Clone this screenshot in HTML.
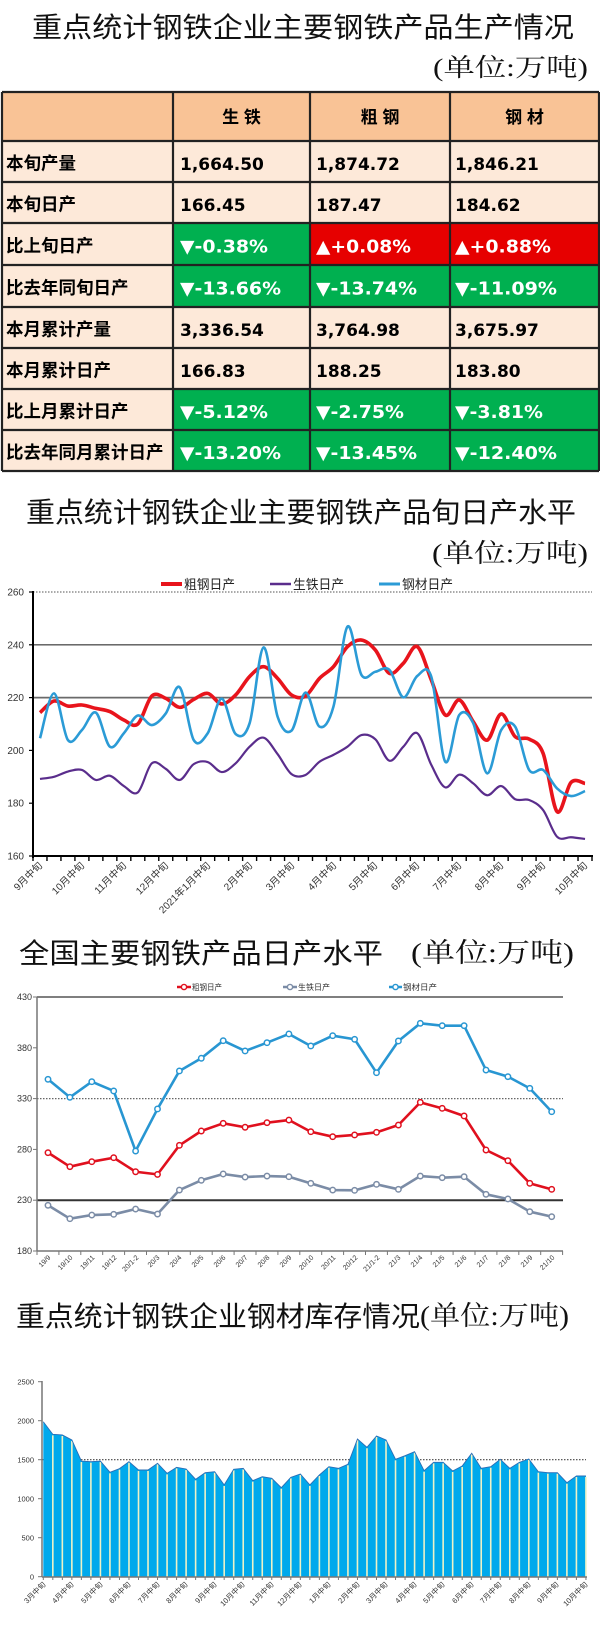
<!DOCTYPE html>
<html><head><meta charset="utf-8">
<style>
html,body{margin:0;padding:0;background:#fff;}
svg{display:block;}
text{font-family:"Liberation Sans","Noto Sans CJK SC",sans-serif;}
text.t{font-family:"Liberation Sans","Noto Sans CJK SC",sans-serif;fill:#111;}
text.s{font-family:"Liberation Serif","Noto Serif CJK SC",serif;fill:#111;}
.lb text{font-weight:bold;fill:#000;font-family:"Liberation Sans","Noto Sans CJK SC",sans-serif;}
.v text{font-family:"DejaVu Sans","Liberation Sans",sans-serif;font-weight:bold;fill:#000;}
.w text{font-family:"DejaVu Sans","Liberation Sans",sans-serif;font-weight:bold;fill:#fff;}
.ax text{fill:#333;}
</style></head><body>
<svg width="600" height="1628" viewBox="0 0 600 1628" xmlns="http://www.w3.org/2000/svg">
<rect x="0" y="0" width="600" height="1628" fill="#fff"/>

<!-- ===== Title 1 ===== -->
<text class="t" x="32" y="37" font-size="28" textLength="542" lengthAdjust="spacingAndGlyphs">重点统计钢铁企业主要钢铁产品生产情况</text>
<text class="s" x="433" y="76" font-size="25" textLength="155" lengthAdjust="spacingAndGlyphs">(单位:万吨)</text>

<!-- ===== Table ===== -->
<rect x="2" y="92" width="597" height="49" fill="#F9C396"/>
<rect x="2" y="141" width="597" height="330" fill="#FDE9D9"/>
<rect x="173" y="223" width="137" height="42" fill="#00B050"/>
<rect x="310" y="223" width="289" height="42" fill="#E60000"/>
<rect x="173" y="265" width="426" height="42" fill="#00B050"/>
<rect x="173" y="389" width="426" height="82" fill="#00B050"/>
<g stroke="#222" stroke-width="2.2">
<line x1="2" y1="92" x2="599" y2="92"/>
<line x1="2" y1="141" x2="599" y2="141"/>
<line x1="2" y1="182" x2="599" y2="182"/>
<line x1="2" y1="223" x2="599" y2="223"/>
<line x1="2" y1="265" x2="599" y2="265"/>
<line x1="2" y1="307" x2="599" y2="307"/>
<line x1="2" y1="348" x2="599" y2="348"/>
<line x1="2" y1="389" x2="599" y2="389"/>
<line x1="2" y1="430" x2="599" y2="430"/>
<line x1="2" y1="471" x2="599" y2="471"/>
<line x1="2" y1="92" x2="2" y2="471"/>
<line x1="173" y1="92" x2="173" y2="471"/>
<line x1="310" y1="92" x2="310" y2="471"/>
<line x1="450" y1="92" x2="450" y2="471"/>
<line x1="599" y1="92" x2="599" y2="471"/>
</g>
<g class="lb" font-size="17">
<text x="241.5" y="123" text-anchor="middle">生 铁</text>
<text x="380" y="123" text-anchor="middle">粗 钢</text>
<text x="524.5" y="123" text-anchor="middle">钢 材</text>
</g>
<g class="lb" font-size="17.5">
<text x="6" y="169.5">本旬产量</text>
<text x="6" y="210.5">本旬日产</text>
<text x="6" y="252">比上旬日产</text>
<text x="6" y="294">比去年同旬日产</text>
<text x="6" y="335.5">本月累计产量</text>
<text x="6" y="376.5">本月累计日产</text>
<text x="6" y="417.5">比上月累计日产</text>
<text x="6" y="458.5">比去年同月累计日产</text>
</g>
<g class="v" font-size="17">
<text x="180" y="170">1,664.50</text>
<text x="316" y="170">1,874.72</text>
<text x="455" y="170">1,846.21</text>
<text x="180" y="211">166.45</text>
<text x="316" y="211">187.47</text>
<text x="455" y="211">184.62</text>
<text x="180" y="336">3,336.54</text>
<text x="316" y="336">3,764.98</text>
<text x="455" y="336">3,675.97</text>
<text x="180" y="377">166.83</text>
<text x="316" y="377">188.25</text>
<text x="455" y="377">183.80</text>
</g>
<g class="w" font-size="18">
<text x="180" y="252.5" textLength="88" lengthAdjust="spacingAndGlyphs">▼-0.38%</text>
<text x="316" y="252.5" textLength="95" lengthAdjust="spacingAndGlyphs">▲+0.08%</text>
<text x="455" y="252.5" textLength="96" lengthAdjust="spacingAndGlyphs">▲+0.88%</text>
<text x="180" y="294.5" textLength="101" lengthAdjust="spacingAndGlyphs">▼-13.66%</text>
<text x="316" y="294.5" textLength="101" lengthAdjust="spacingAndGlyphs">▼-13.74%</text>
<text x="455" y="294.5" textLength="102" lengthAdjust="spacingAndGlyphs">▼-11.09%</text>
<text x="180" y="418" textLength="88" lengthAdjust="spacingAndGlyphs">▼-5.12%</text>
<text x="316" y="418" textLength="88" lengthAdjust="spacingAndGlyphs">▼-2.75%</text>
<text x="455" y="418" textLength="88" lengthAdjust="spacingAndGlyphs">▼-3.81%</text>
<text x="180" y="459" textLength="101" lengthAdjust="spacingAndGlyphs">▼-13.20%</text>
<text x="316" y="459" textLength="101" lengthAdjust="spacingAndGlyphs">▼-13.45%</text>
<text x="455" y="459" textLength="102" lengthAdjust="spacingAndGlyphs">▼-12.40%</text>
</g>

<!-- ===== Chart 1 ===== -->
<text class="t" x="26" y="522" font-size="28" textLength="550" lengthAdjust="spacingAndGlyphs">重点统计钢铁企业主要钢铁产品旬日产水平</text>
<text class="s" x="432" y="562" font-size="26" textLength="156" lengthAdjust="spacingAndGlyphs">(单位:万吨)</text>

<line x1="161" y1="584" x2="182" y2="584" stroke="#e8141c" stroke-width="4"/>
<text x="184" y="589" font-size="13" fill="#222" textLength="51" lengthAdjust="spacingAndGlyphs">粗钢日产</text>
<line x1="270" y1="584" x2="291" y2="584" stroke="#5a2d8c" stroke-width="2.5"/>
<text x="293" y="589" font-size="13" fill="#222" textLength="51" lengthAdjust="spacingAndGlyphs">生铁日产</text>
<line x1="379" y1="584" x2="400" y2="584" stroke="#2b9bd6" stroke-width="3"/>
<text x="402" y="589" font-size="13" fill="#222" textLength="51" lengthAdjust="spacingAndGlyphs">钢材日产</text>

<line x1="33" y1="592" x2="592" y2="592" stroke="#777" stroke-width="1.2" stroke-dasharray="1.5,1.5"/>
<line x1="33" y1="644.8" x2="592" y2="644.8" stroke="#555" stroke-width="1.4"/>
<line x1="33" y1="697.6" x2="592" y2="697.6" stroke="#6a6a6a" stroke-width="1.8"/>
<g class="ax" font-size="10" text-anchor="end">
<text x="24" y="595.5">260</text>
<text x="24" y="648.3">240</text>
<text x="24" y="701.1">220</text>
<text x="24" y="753.9">200</text>
<text x="24" y="806.7">180</text>
<text x="24" y="859.5">160</text>
</g>
<g stroke="#000" stroke-width="1.2">
<line x1="29" y1="592" x2="33" y2="592"/><line x1="29" y1="644.8" x2="33" y2="644.8"/>
<line x1="29" y1="697.6" x2="33" y2="697.6"/><line x1="29" y1="750.4" x2="33" y2="750.4"/>
<line x1="29" y1="803.2" x2="33" y2="803.2"/><line x1="29" y1="856" x2="33" y2="856"/>
</g>
<g id="c1"></g>
<line x1="33" y1="591" x2="33" y2="858" stroke="#000" stroke-width="2"/>
<line x1="32" y1="856" x2="593" y2="856" stroke="#000" stroke-width="2"/>
<g id="c1t"></g>
<g class="ax" font-size="10" text-anchor="end">
<text transform="translate(43,866) rotate(-45)">9月中旬</text>
<text transform="translate(85,866) rotate(-45)">10月中旬</text>
<text transform="translate(127,866) rotate(-45)">11月中旬</text>
<text transform="translate(169,866) rotate(-45)">12月中旬</text>
<text transform="translate(211,866) rotate(-45)">2021年1月中旬</text>
<text transform="translate(253,866) rotate(-45)">2月中旬</text>
<text transform="translate(295,866) rotate(-45)">3月中旬</text>
<text transform="translate(337,866) rotate(-45)">4月中旬</text>
<text transform="translate(378,866) rotate(-45)">5月中旬</text>
<text transform="translate(420,866) rotate(-45)">6月中旬</text>
<text transform="translate(462,866) rotate(-45)">7月中旬</text>
<text transform="translate(504,866) rotate(-45)">8月中旬</text>
<text transform="translate(546,866) rotate(-45)">9月中旬</text>
<text transform="translate(588,866) rotate(-45)">10月中旬</text>
</g>

<!-- ===== Chart 2 ===== -->
<text class="t" x="19" y="963" font-size="28" textLength="364" lengthAdjust="spacingAndGlyphs">全国主要钢铁产品日产水平</text>
<text class="s" x="411" y="962" font-size="27" textLength="163" lengthAdjust="spacingAndGlyphs">(单位:万吨)</text>

<line x1="177" y1="987" x2="191" y2="987" stroke="#e0101e" stroke-width="2.5"/>
<circle cx="184" cy="987" r="2.6" fill="#fff" stroke="#e0101e" stroke-width="1.4"/>
<text x="192" y="990" font-size="8" fill="#333" textLength="30" lengthAdjust="spacingAndGlyphs">粗钢日产</text>
<line x1="283" y1="987" x2="297" y2="987" stroke="#7b8ca6" stroke-width="2.5"/>
<circle cx="290" cy="987" r="2.6" fill="#fff" stroke="#7b8ca6" stroke-width="1.4"/>
<text x="298" y="990" font-size="8" fill="#333" textLength="32" lengthAdjust="spacingAndGlyphs">生铁日产</text>
<line x1="389" y1="987" x2="402" y2="987" stroke="#2896d2" stroke-width="2.5"/>
<circle cx="395.5" cy="987" r="2.6" fill="#fff" stroke="#2896d2" stroke-width="1.4"/>
<text x="403" y="990" font-size="8" fill="#333" textLength="34" lengthAdjust="spacingAndGlyphs">钢材日产</text>

<line x1="37" y1="997" x2="563" y2="997" stroke="#555" stroke-width="1.5"/>
<line x1="37" y1="1098.6" x2="563" y2="1098.6" stroke="#666" stroke-width="1.2" stroke-dasharray="1.5,1.5"/>
<line x1="37" y1="1200.2" x2="563" y2="1200.2" stroke="#333" stroke-width="2"/>
<g class="ax" font-size="9" text-anchor="end">
<text x="32" y="1000">430</text>
<text x="32" y="1050.8">380</text>
<text x="32" y="1101.6">330</text>
<text x="32" y="1152.4">280</text>
<text x="32" y="1203.2">230</text>
<text x="32" y="1254">180</text>
</g>
<g stroke="#777" stroke-width="1">
<line x1="33" y1="997" x2="37" y2="997"/><line x1="33" y1="1047.8" x2="37" y2="1047.8"/>
<line x1="33" y1="1098.6" x2="37" y2="1098.6"/><line x1="33" y1="1149.4" x2="37" y2="1149.4"/>
<line x1="33" y1="1200.2" x2="37" y2="1200.2"/><line x1="33" y1="1251" x2="37" y2="1251"/>
</g>
<line x1="37" y1="997" x2="37" y2="1251" stroke="#777" stroke-width="1.5"/>
<line x1="37" y1="1251" x2="563" y2="1251" stroke="#777" stroke-width="1.5"/>
<g id="c2t"></g>
<g id="c2"></g>
<g class="ax" font-size="7" text-anchor="end">
<text transform="translate(51,1258) rotate(-45)">19/9</text>
<text transform="translate(73,1258) rotate(-45)">19/10</text>
<text transform="translate(95,1258) rotate(-45)">19/11</text>
<text transform="translate(117,1258) rotate(-45)">19/12</text>
<text transform="translate(139,1258) rotate(-45)">20/1-2</text>
<text transform="translate(160,1258) rotate(-45)">20/3</text>
<text transform="translate(182,1258) rotate(-45)">20/4</text>
<text transform="translate(204,1258) rotate(-45)">20/5</text>
<text transform="translate(226,1258) rotate(-45)">20/6</text>
<text transform="translate(248,1258) rotate(-45)">20/7</text>
<text transform="translate(270,1258) rotate(-45)">20/8</text>
<text transform="translate(292,1258) rotate(-45)">20/9</text>
<text transform="translate(314,1258) rotate(-45)">20/10</text>
<text transform="translate(336,1258) rotate(-45)">20/11</text>
<text transform="translate(358,1258) rotate(-45)">20/12</text>
<text transform="translate(380,1258) rotate(-45)">21/1-2</text>
<text transform="translate(401,1258) rotate(-45)">21/3</text>
<text transform="translate(423,1258) rotate(-45)">21/4</text>
<text transform="translate(445,1258) rotate(-45)">21/5</text>
<text transform="translate(467,1258) rotate(-45)">21/6</text>
<text transform="translate(489,1258) rotate(-45)">21/7</text>
<text transform="translate(511,1258) rotate(-45)">21/8</text>
<text transform="translate(533,1258) rotate(-45)">21/9</text>
<text transform="translate(555,1258) rotate(-45)">21/10</text>
</g>

<!-- ===== Chart 3 ===== -->
<text class="t" x="16" y="1326" font-size="28" textLength="404" lengthAdjust="spacingAndGlyphs">重点统计钢铁企业钢材库存情况</text>
<text class="s" x="420" y="1325" font-size="27" textLength="149" lengthAdjust="spacingAndGlyphs">(单位:万吨)</text>

<line x1="42" y1="1459.7" x2="586" y2="1459.7" stroke="#444" stroke-width="1.1" stroke-dasharray="1.5,1.5"/>
<g id="c3"></g>
<g class="ax" font-size="7.5" text-anchor="end">
<text x="34" y="1384.5">2500</text>
<text x="34" y="1423.5">2000</text>
<text x="34" y="1462.5">1500</text>
<text x="34" y="1501.5">1000</text>
<text x="34" y="1540.5">500</text>
<text x="34" y="1579.5">0</text>
</g>
<g stroke="#777" stroke-width="1">
<line x1="38" y1="1381.7" x2="42" y2="1381.7"/><line x1="38" y1="1420.7" x2="42" y2="1420.7"/>
<line x1="38" y1="1459.7" x2="42" y2="1459.7"/><line x1="38" y1="1498.7" x2="42" y2="1498.7"/>
<line x1="38" y1="1537.7" x2="42" y2="1537.7"/><line x1="38" y1="1576.7" x2="42" y2="1576.7"/>
</g>
<line x1="42" y1="1381" x2="42" y2="1577" stroke="#777" stroke-width="1.5"/>
<line x1="42" y1="1577" x2="587" y2="1577" stroke="#777" stroke-width="1.5"/>
<g id="c3t"></g>
<g class="ax" font-size="7.5" text-anchor="end">
<text transform="translate(46,1585) rotate(-45)">3月中旬</text>
<text transform="translate(74,1585) rotate(-45)">4月中旬</text>
<text transform="translate(103,1585) rotate(-45)">5月中旬</text>
<text transform="translate(131,1585) rotate(-45)">6月中旬</text>
<text transform="translate(160,1585) rotate(-45)">7月中旬</text>
<text transform="translate(188,1585) rotate(-45)">8月中旬</text>
<text transform="translate(217,1585) rotate(-45)">9月中旬</text>
<text transform="translate(245,1585) rotate(-45)">10月中旬</text>
<text transform="translate(274,1585) rotate(-45)">11月中旬</text>
<text transform="translate(302,1585) rotate(-45)">12月中旬</text>
<text transform="translate(331,1585) rotate(-45)">1月中旬</text>
<text transform="translate(360,1585) rotate(-45)">2月中旬</text>
<text transform="translate(388,1585) rotate(-45)">3月中旬</text>
<text transform="translate(417,1585) rotate(-45)">4月中旬</text>
<text transform="translate(445,1585) rotate(-45)">5月中旬</text>
<text transform="translate(474,1585) rotate(-45)">6月中旬</text>
<text transform="translate(502,1585) rotate(-45)">7月中旬</text>
<text transform="translate(531,1585) rotate(-45)">8月中旬</text>
<text transform="translate(559,1585) rotate(-45)">9月中旬</text>
<text transform="translate(588,1585) rotate(-45)">10月中旬</text>
</g>
</svg>

<script>
(function(){
var NS="http://www.w3.org/2000/svg";
function el(pid,tag,a){var e=document.createElementNS(NS,tag);for(var k in a)e.setAttribute(k,a[k]);document.getElementById(pid).appendChild(e);return e;}
function smooth(p){
  var d="M"+p[0][0].toFixed(2)+","+p[0][1].toFixed(2);
  for(var i=0;i<p.length-1;i++){
    var p0=p[i-1]||p[i],p1=p[i],p2=p[i+1],p3=p[i+2]||p[i+1],t=1/6;
    var c1x=p1[0]+(p2[0]-p0[0])*t,c1y=p1[1]+(p2[1]-p0[1])*t;
    var c2x=p2[0]-(p3[0]-p1[0])*t,c2y=p2[1]-(p3[1]-p1[1])*t;
    d+=" C"+c1x.toFixed(2)+","+c1y.toFixed(2)+" "+c2x.toFixed(2)+","+c2y.toFixed(2)+" "+p2[0].toFixed(2)+","+p2[1].toFixed(2);
  }
  return d;
}
function pts(a,fx,fy){return a.map(function(v,i){return [fx(i),fy(v)];});}
function poly(p){return p.map(function(q){return q[0].toFixed(2)+","+q[1].toFixed(2);}).join(" ");}

/* chart 1 */
var x1=function(i){return 40+13.975*i;}, y1=function(v){return 856-(v-160)*2.64;};
var red1=[214.3,218.7,216.8,217.2,215.9,214.7,211.5,210,220.6,219.7,216.3,219.3,221.6,217.6,221,228,231.7,227.3,221,220.6,227.3,231.7,239.3,241.8,238,229.2,233,239.3,226.7,213.4,219.1,210.9,203.9,213.8,205.2,204.3,198.9,176.8,187.9,187.5];
var blue1=[204.6,221.6,203.9,207.7,214.3,201.4,206.5,213.2,209.6,214,223.9,203.9,206.5,219.6,206.2,210.3,239,212.8,207.5,221.9,209,216.6,246.9,228.6,229.8,230.5,220.1,228.2,227.9,195.7,213.4,210.3,191.3,207.7,209,192.6,192.6,185.6,182.7,184.6];
var pur1=[189.2,190,192,192.6,188.8,190.4,186.5,184.1,195.1,193,188.8,194.8,195.6,191.8,195.1,201.4,204.8,198.6,191,190.7,195.7,198.3,201.4,205.8,204.2,196.1,201.4,206.5,194.5,186,190.8,187.5,183,186.5,181.5,181.2,177.4,167.3,167.1,166.45];
el("c1","path",{d:smooth(pts(pur1,x1,y1)),fill:"none",stroke:"#5a2d8c","stroke-width":2.2,"stroke-linejoin":"round"});
el("c1","path",{d:smooth(pts(red1,x1,y1)),fill:"none",stroke:"#e8141c","stroke-width":3.6,"stroke-linejoin":"round"});
el("c1","path",{d:smooth(pts(blue1,x1,y1)),fill:"none",stroke:"#2b9bd6","stroke-width":2.6,"stroke-linejoin":"round"});
for(var k=0;k<=40;k++){var tx=33+13.975*k;el("c1t","line",{x1:tx,y1:856,x2:tx,y2:861,stroke:"#000","stroke-width":1.4});}

/* chart 2 */
var x2=function(i){return 48+21.9*i;}, y2=function(v){return 1251-(v-180)*1.016;};
var blue2=[349,331.3,346.6,337.5,278.4,319.8,357.2,369.7,387,376.9,385,393.6,381.8,391.9,388.4,355.5,386.7,404.1,401.8,401.8,358.1,351.6,340.1,317.1];
var red2=[276.8,263,267.9,271.8,258,255.4,284,298.1,305.7,301.8,306.3,308.9,297.4,292.5,294.2,296.8,304,326.3,320.4,312.9,279.4,268.9,246.6,240.7];
var gray2=[225,211.8,215.4,216.1,221.3,216.4,240,249.6,255.8,252.8,253.8,253.1,246.6,240,239.7,245.6,240.7,253.8,252.2,253.1,235.8,231.2,218.7,213.8];
for(var k=0;k<=24;k++){var tx=37+21.9*k;el("c2t","line",{x1:tx,y1:1251,x2:tx,y2:1255,stroke:"#777","stroke-width":1});}
[[gray2,"#7b8ca6"],[red2,"#e0101e"],[blue2,"#2896d2"]].forEach(function(s){
  var p=pts(s[0],x2,y2);
  el("c2","polyline",{points:poly(p),fill:"none",stroke:s[1],"stroke-width":2.6,"stroke-linejoin":"round"});
  p.forEach(function(q){el("c2","circle",{cx:q[0].toFixed(2),cy:q[1].toFixed(2),r:2.7,fill:"#fff",stroke:s[1],"stroke-width":1.5});});
});

/* chart 3 */
var x3=function(i){return 43.3+9.52*i;}, y3=function(v){return 1576.7-v*0.078;};
var d3=[1987,1825,1817,1753,1483,1475,1483,1338,1385,1475,1368,1368,1454,1325,1402,1381,1248,1333,1346,1176,1377,1389,1231,1282,1261,1141,1274,1317,1176,1304,1410,1389,1441,1765,1659,1804,1753,1505,1551,1603,1359,1466,1466,1355,1419,1582,1389,1410,1505,1389,1466,1509,1346,1333,1333,1205,1291,1291];
var p3=pts(d3,x3,y3);
var ad="M"+x3(0).toFixed(2)+",1576.7 L"+poly(p3).replace(/ /g," L")+" L"+x3(d3.length-1).toFixed(2)+",1576.7 Z";
el("c3","path",{d:ad,fill:"#00A9EC",stroke:"none"});
for(var i=1;i<p3.length;i++){el("c3","line",{x1:p3[i][0].toFixed(2),y1:(p3[i][1]+1).toFixed(2),x2:p3[i][0].toFixed(2),y2:1576.7,stroke:"#EEF2C6","stroke-width":1.6});}
el("c3","polyline",{points:poly(p3),fill:"none",stroke:"#2a6db5","stroke-width":0.9});
for(var i=0;i<p3.length;i++){var tx=x3(i);el("c3t","line",{x1:tx,y1:1577,x2:tx,y2:1580,stroke:"#777","stroke-width":1});}
})();
</script>
</body></html>
